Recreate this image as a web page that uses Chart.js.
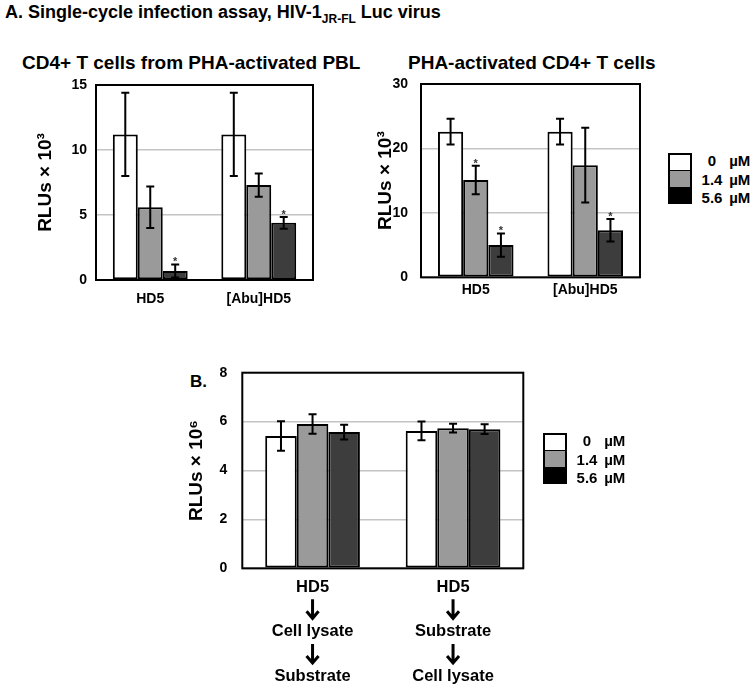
<!DOCTYPE html>
<html>
<head>
<meta charset="utf-8">
<script src="https://cdn.jsdelivr.net/npm/chart.js@4.4.1/dist/chart.umd.min.js"></script>
<style>
  body { margin: 0; background: #fff; }
  #page { position: relative; width: 755px; height: 691px; overflow: hidden;
          font-family: "Liberation Sans", Arial, sans-serif; font-weight: bold; color: #000; }
  .txt { position: absolute; white-space: nowrap; line-height: 18px; }
  canvas { position: absolute; }
  .legend { position: absolute; display: flex; white-space: nowrap; }
  .swatch { width: 20px; height: 47px; border: 2px solid #000; display: flex; flex-direction: column; flex-shrink: 0; }
  .swatch div { flex: 1; }
  .labels { margin-left: 7px; font-size: 15px; line-height: 18.5px; margin-top: -1px; }
  .labels span.n { display: inline-block; width: 26px; text-align: center; }
</style>
</head>
<body>
<div id="page">
  <div class="txt" style="left:5px;top:3px;font-size:18px">A. Single-cycle infection assay, HIV-1<sub style="font-size:12px">JR-FL</sub> Luc virus</div>
  <div class="txt" style="left:22px;top:54px;font-size:19px">CD4+ T cells from PHA-activated PBL</div>
  <div class="txt" style="left:408px;top:54px;font-size:19px">PHA-activated CD4+ T cells</div>
  <div class="txt" style="left:190px;top:373px;font-size:17px">B.</div>

  <div style="position:absolute;left:0;top:50px;width:340px;height:275px"><canvas id="pblChart"></canvas></div>
  <div style="position:absolute;left:360px;top:50px;width:300px;height:275px"><canvas id="cd4Chart"></canvas></div>
  <div style="position:absolute;left:150px;top:340px;width:400px;height:351px"><canvas id="orderChart"></canvas></div>

  <div class="legend" id="legendA" style="left:668px;top:153px"></div>
  <div class="legend" id="legendB" style="left:543px;top:433px"></div>
</div>

<script>
// doses (series)
const doseNumbers = ["0", "1.4", "5.6"];
const doseColors = ["#ffffff", "#9a9a9a", "#3d3d3d"];
const legendColors = ["#ffffff", "#9a9a9a", "#000000"];

// Panel A, left: CD4+ T cells from PHA-activated PBL
const pblCategories = ["HD5", "[Abu]HD5"];
const pblMean0 = [11.2, 11.2];
const pblMean14 = [5.6, 7.3];
const pblMean56 = [0.7, 4.4];
const pblErr0 = [3.2, 3.2];
const pblErr14 = [1.6, 0.9];
const pblErr56 = [0.5, 0.45];
const pblSig0 = [false, false];
const pblSig14 = [false, false];
const pblSig56 = [true, true];

// Panel A, right: PHA-activated CD4+ T cells
const cd4Categories = ["HD5", "[Abu]HD5"];
const cd4Mean0 = [22.6, 22.6];
const cd4Mean14 = [15.1, 17.4];
const cd4Mean56 = [5.0, 7.3];
const cd4Err0 = [2.0, 2.0];
const cd4Err14 = [2.2, 5.8];
const cd4Err56 = [1.8, 1.75];
const cd4Sig0 = [false, false];
const cd4Sig14 = [true, false];
const cd4Sig56 = [true, true];

// Panel B: order of addition (blank lines get an arrow from the plugin)
const orderCategories = [
  ["HD5", "", "Cell lysate", "", "Substrate"],
  ["HD5", "", "Substrate", "", "Cell lysate"]
];
const orderMean0 = [5.41, 5.62];
const orderMean14 = [5.9, 5.73];
const orderMean56 = [5.57, 5.69];
const orderErr0 = [0.6, 0.38];
const orderErr14 = [0.4, 0.18];
const orderErr56 = [0.3, 0.2];
const noSig = [false, false];

const FONT = "'Liberation Sans', Arial, sans-serif";

const frameAndErrors = {
  id: "frameAndErrors",
  afterDatasetsDraw(chart) {
    const { ctx, chartArea: a, scales } = chart;
    const y = scales.y;
    ctx.save();
    ctx.strokeStyle = "#000";
    ctx.lineWidth = 2;
    ctx.strokeRect(a.left, a.top, a.right - a.left, a.bottom - a.top);
    chart.data.datasets.forEach((ds, i) => {
      chart.getDatasetMeta(i).data.forEach((bar, j) => {
        const v = ds.data[j], e = ds.err[j];
        const yt = y.getPixelForValue(v + e);
        const yb = y.getPixelForValue(Math.max(0, v - e));
        ctx.beginPath();
        ctx.moveTo(bar.x, yt); ctx.lineTo(bar.x, yb);
        ctx.moveTo(bar.x - 4, yt); ctx.lineTo(bar.x + 4, yt);
        ctx.moveTo(bar.x - 4, yb); ctx.lineTo(bar.x + 4, yb);
        ctx.stroke();
        if (ds.sig[j]) {
          ctx.fillStyle = "#333";
          ctx.font = "bold 11px " + FONT;
          ctx.textAlign = "center";
          ctx.textBaseline = "alphabetic";
          ctx.fillText("*", bar.x, yt + 1);
        }
      });
    });
    ctx.restore();
  }
};

// down arrows on the blank lines of the panel B category labels
const flowArrows = {
  id: "flowArrows",
  afterDraw(chart, args, opts) {
    if (!opts.enabled) return;
    const { ctx } = chart;
    const x = chart.scales.x;
    ctx.save();
    ctx.strokeStyle = "#000";
    ctx.lineWidth = 3;
    ctx.lineCap = "butt";
    chart.data.labels.forEach((lines, i) => {
      const cx = x.getPixelForValue(i);
      lines.forEach((ln, k) => {
        if (ln !== "") return;
        const cy = x.top + opts.padding + opts.lineH * (k + 0.5);
        ctx.beginPath();
        ctx.moveTo(cx, cy - 10); ctx.lineTo(cx, cy + 9);
        ctx.moveTo(cx - 6, cy + 2); ctx.lineTo(cx, cy + 9); ctx.lineTo(cx + 6, cy + 2);
        ctx.stroke();
      });
    });
    ctx.restore();
  }
};

function makeChart(id, categories, means, errs, sigs, g) {
  return new Chart(document.getElementById(id), {
    type: "bar",
    data: {
      labels: categories,
      datasets: means.map((m, i) => ({
        label: doseNumbers[i] + " µM",
        data: m,
        err: errs[i],
        sig: sigs[i],
        backgroundColor: doseColors[i],
        borderColor: "#000",
        borderWidth: 2,
        borderSkipped: false,
        barPercentage: 1,
        categoryPercentage: g.catPct
      }))
    },
    options: {
      responsive: true,
      maintainAspectRatio: false,
      animation: false,
      layout: { padding: { left: 0, top: g.top, right: g.right, bottom: 0 } },
      plugins: {
        legend: { display: false },
        tooltip: { enabled: false },
        flowArrows: { enabled: !!g.arrows, padding: g.xPad, lineH: g.xLineH }
      },
      scales: {
        x: {
          grid: { display: false, drawTicks: false },
          border: { display: false },
          ticks: {
            color: "#000", padding: g.xPad, maxRotation: 0,
            font: { family: FONT, size: g.xFont, weight: "bold", lineHeight: g.xLineH + "px" }
          },
          afterFit: (s) => { s.height = g.xHeight; }
        },
        y: {
          min: 0, max: g.max,
          ticks: { stepSize: g.step, color: "#000", padding: g.tickPad, font: { family: FONT, size: 14, weight: "bold" } },
          grid: { color: "#c4c4c4", lineWidth: 1.5, drawTicks: false },
          border: { display: false },
          title: {
            display: true, text: g.title, color: "#000",
            font: { family: FONT, size: 19, weight: "bold" },
            padding: { top: g.titlePad, bottom: 0 }
          },
          afterFit: (s) => { s.width = g.yWidth; }
        }
      }
    },
    plugins: [frameAndErrors, flowArrows]
  });
}

makeChart("pblChart", pblCategories,
  [pblMean0, pblMean14, pblMean56], [pblErr0, pblErr14, pblErr56], [pblSig0, pblSig14, pblSig56],
  { max: 15, step: 5, title: "RLUs × 10³", top: 35, right: 27, yWidth: 96, xHeight: 45, tickPad: 9, titlePad: 34,
    catPct: 0.69, xFont: 14, xLineH: 16, xPad: 11 });

makeChart("cd4Chart", cd4Categories,
  [cd4Mean0, cd4Mean14, cd4Mean56], [cd4Err0, cd4Err14, cd4Err56], [cd4Sig0, cd4Sig14, cd4Sig56],
  { max: 30, step: 10, title: "RLUs × 10³", top: 34, right: 20, yWidth: 61, xHeight: 47.7, tickPad: 13, titlePad: 14,
    catPct: 0.69, xFont: 14, xLineH: 16, xPad: 5 });

makeChart("orderChart", orderCategories,
  [orderMean0, orderMean14, orderMean56], [orderErr0, orderErr14, orderErr56], [noSig, noSig, noSig],
  { max: 8, step: 2, title: "RLUs × 10⁶", top: 32.7, right: 26.7, yWidth: 92.3, xHeight: 122.7, tickPad: 15, titlePad: 35,
    catPct: 0.674, xFont: 16.5, xLineH: 22.3, xPad: 7.6, arrows: true });

function buildLegend(id) {
  const el = document.getElementById(id);
  const sw = document.createElement("div");
  sw.className = "swatch";
  const lab = document.createElement("div");
  lab.className = "labels";
  doseNumbers.forEach((d, i) => {
    const c = document.createElement("div");
    c.style.background = legendColors[i];
    if (i === 0) c.style.borderBottom = "1px solid #000";
    sw.appendChild(c);
    const row = document.createElement("div");
    row.innerHTML = '<span class="n">' + d + '</span> µM';
    lab.appendChild(row);
  });
  el.appendChild(sw);
  el.appendChild(lab);
}
buildLegend("legendA");
buildLegend("legendB");
</script>
</body>
</html>
